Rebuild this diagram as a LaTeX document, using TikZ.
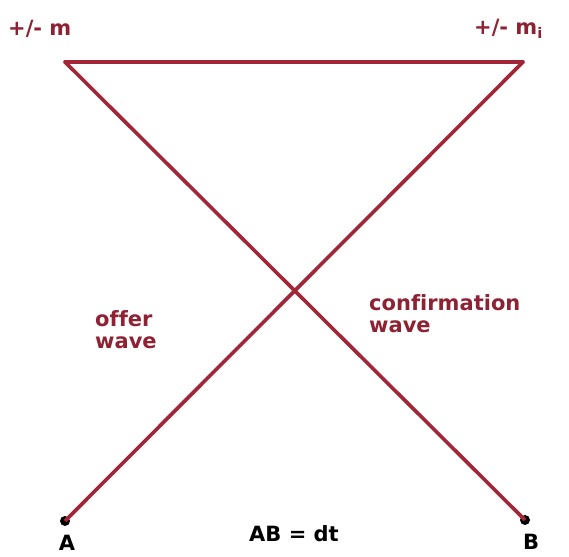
\documentclass[tikz,border=0pt]{standalone}
\usepackage{fontspec}
\setmainfont[Ligatures=NoCommon]{DejaVu Sans}
\definecolor{wred}{HTML}{A12638}
\definecolor{tred}{HTML}{8E2233}
\tikzset{
  wave/.style={draw=wred, line width=3.6pt},
  lbl/.style={text=tred, font=\bfseries\fontsize{21}{21}\selectfont, inner sep=0pt},
  pt/.style={circle, fill=black, inner sep=0pt, minimum size=10pt},
  ptlbl/.style={font=\bfseries\fontsize{21}{21}\selectfont, inner sep=0pt},
}
\begin{document}
\begin{tikzpicture}[x=1pt,y=1pt]
\useasboundingbox (0,0) rectangle (569,556);
\coordinate (TL) at (65,494);
\coordinate (TR) at (523,494);
\node[pt] (A) at (65,35) {};
\node[pt] (B) at (525,36) {};
\draw[wave, line cap=round] (TL) -- (TR);
\draw[wave] (TL) -- (B.center);
\draw[wave] (TR) -- (A.center);
\node[lbl, anchor=west] (mleft) at (8,527) {+/- m};
\node[lbl, anchor=west] (mright) at (474,527) {+/- m\textsubscript{i}};
\node[lbl, anchor=north west, align=left] (offer) at (95,246) {offer\\[1pt]wave};
\node[lbl, anchor=north west, align=left] (conf) at (369,262) {confirmation\\[1pt]wave};
\node[ptlbl] (AB) at (294,22) {AB = dt};
\node[ptlbl, anchor=south] (Alab) at (67,5) {A};
\node[ptlbl, anchor=south] (Blab) at (531,6) {B};
\end{tikzpicture}
\end{document}
